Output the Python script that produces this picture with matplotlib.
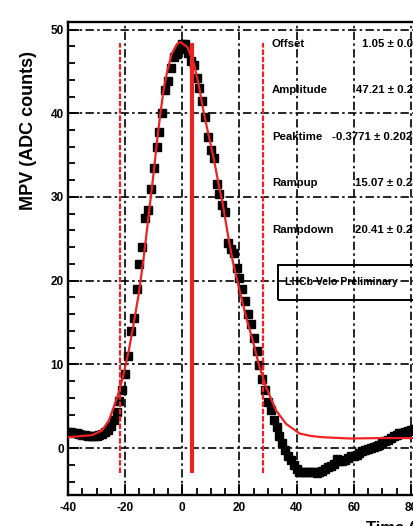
#!/usr/bin/env python3
# mpv_pulse_scan.py

import numpy as np
import matplotlib.pyplot as plt
from matplotlib.patches import Rectangle
from matplotlib.ticker import MultipleLocator, FuncFormatter

# measured MPV per delay step
delay = np.arange(-40, 83)
mpv = [
    1.9, 1.9, 1.8, 1.8, 1.7, 1.6, 1.6, 1.5, 1.5, 1.5,
    1.5, 1.6, 1.7, 1.9, 2.2, 2.6, 3.4, 4.3, 5.6, 7.0,
    8.8, 11.0, 14.0, 15.5, 19.0, 22.0, 24.0, 27.5, 28.5, 31.0,
    33.5, 36.0, 37.8, 40.0, 42.8, 43.8, 45.4, 46.7, 47.1, 47.7,
    48.3, 48.3, 47.2, 46.3, 45.8, 44.2, 43.0, 41.5, 39.6, 37.2,
    35.6, 34.6, 31.5, 30.3, 29.0, 28.2, 24.5, 23.8, 23.3, 21.5,
    20.3, 19.0, 17.6, 16.0, 14.8, 13.2, 11.6, 9.9, 8.3, 6.9,
    5.5, 4.5, 3.3, 2.5, 1.4, 0.6, -0.2, -0.9, -1.4, -2.0,
    -2.5, -2.8, -2.9, -2.9, -2.9, -2.8, -2.9, -3.0, -2.8, -2.7,
    -2.5, -2.3, -2.1, -1.9, -1.3, -1.5, -1.5, -1.4, -1.2, -1.0,
    -0.9, -0.8, -0.6, -0.4, -0.2, -0.1, 0.0, 0.1, 0.2, 0.4,
    0.6, 0.8, 1.0, 1.2, 1.4, 1.6, 1.8, 1.8, 1.9, 2.0,
    2.2, 2.3, 2.4,
]

# fitted pulse shape
fit_t = [-40, -31.6, -28.1, -25.7, -24, -22.2, -20.5, -18.7, -17, -15.2,
         -13.5, -11.7, -10.0, -8.8, -7.7, -6.4, -5.2, -3.7, -1.8, -0.6,
         1.8, 4.1, 5.9, 7.6, 9.4, 11.1, 12.9, 14.1, 15.8, 17.6,
         20, 22.3, 24.6, 27, 29.3, 32.8, 36.3, 41, 45, 49.2,
         58.6, 70, 90]
fit_v = [1.3, 1.55, 2.1, 3.3, 4.9, 6.7, 8.9, 11.7, 14.9, 18.5,
         22.8, 28.0, 33.0, 36.8, 39.9, 43.1, 45.1, 47.1, 48.3, 48.5,
         47.9, 45.9, 43.1, 39.9, 37.1, 34.4, 31.2, 29.3, 25.8, 22.4,
         18.9, 15.7, 12.9, 9.7, 7.3, 4.5, 2.9, 1.75, 1.45, 1.3,
         1.15, 1.2, 1.2]

# window edges and sampling point
window_edges = [-21.7, 28.4]
sample_point = 3.3
marker_lo, marker_hi = -3.0, 48.4

param_names = ["Offset", "Amplitude", "Peaktime", "Rampup", "Rampdown"]
param_values = ["1.05 \u00b1 0.03", "47.21 \u00b1 0.23", "-0.3771 \u00b1 0.2023",
                "15.07 \u00b1 0.23", "20.41 \u00b1 0.23"]
label_text = "LHCb Velo Preliminary"

W, H = 414, 526


def fx(px):
    return px / W


def fy(py):
    return 1 - py / H


def plot(ax):
    ax.set_xlim(-40, 90)
    ax.set_ylim(-5.6, 50.9)

    ax.xaxis.set_major_locator(MultipleLocator(20))
    ax.xaxis.set_minor_locator(MultipleLocator(5))
    ax.yaxis.set_major_locator(MultipleLocator(10))
    ax.yaxis.set_minor_locator(MultipleLocator(2))
    plain = FuncFormatter(lambda v, _: "%d" % v)
    ax.xaxis.set_major_formatter(plain)
    ax.yaxis.set_major_formatter(plain)

    ax.grid(True, which="major", color="black", lw=1.2,
            linestyle=(0, (5, 2, 1.5, 2)))
    ax.set_axisbelow(True)

    ax.tick_params(which="both", direction="in", width=1.3,
                   top=False, right=False)
    ax.tick_params(which="major", length=8)
    ax.tick_params(which="minor", length=5)
    ax.tick_params(axis="x", pad=5)
    ax.tick_params(axis="y", pad=3)
    for lab in ax.get_xticklabels() + ax.get_yticklabels():
        lab.set_fontweight("bold")
        lab.set_fontsize(8.5)

    for sp in ax.spines.values():
        sp.set_linewidth(1.7)

    ax.plot(delay, mpv, "s", color="black", ms=5.4, zorder=3)
    ax.plot(fit_t, fit_v, color="#ee2222", lw=1.6, zorder=4)

    ax.vlines(window_edges, marker_lo, marker_hi, color="#ee2222",
              lw=1.6, linestyles=(0, (2.5, 0.8)), zorder=4)
    ax.vlines(sample_point, marker_lo, marker_hi, color="#ee2222",
              lw=3.0, zorder=4)

    ax.set_ylabel("MPV (ADC counts)", fontsize=13, fontweight="bold")
    ax.yaxis.set_label_coords(-0.083, 0.77)


def main():
    plt.rcParams["font.family"] = ["Liberation Sans", "DejaVu Sans"]
    fig = plt.figure(figsize=(W / 100, H / 100), dpi=100)
    ax = fig.add_axes([fx(68), fy(495), (439.5 - 68) / W, (495 - 22) / H])

    plot(ax)

    # fit parameter box
    rows_y = [44, 90, 137, 183, 230]
    for name, val, py in zip(param_names, param_values, rows_y):
        fig.text(fx(272), fy(py), name, fontsize=8.2, fontweight="bold",
                 va="center", ha="left")
        fig.text(fx(419), fy(py), val, fontsize=8.2, fontweight="bold",
                 va="center", ha="right")

    fig.patches.append(Rectangle((fx(278), fy(300)), fx(170), (300 - 265) / H,
                                 transform=fig.transFigure, fill=False,
                                 edgecolor="black", lw=1.4))
    fig.text(fx(285), fy(282), label_text, fontsize=7.6, fontweight="bold",
             va="center", ha="left")

    # axis title sits at the far end of the x axis, below the tick labels
    fig.text(fx(439), fy(521), "Time (ns)", fontsize=12, fontweight="bold",
             va="top", ha="right")

    fig.savefig("out.png", dpi=100)


if __name__ == "__main__":
    main()
